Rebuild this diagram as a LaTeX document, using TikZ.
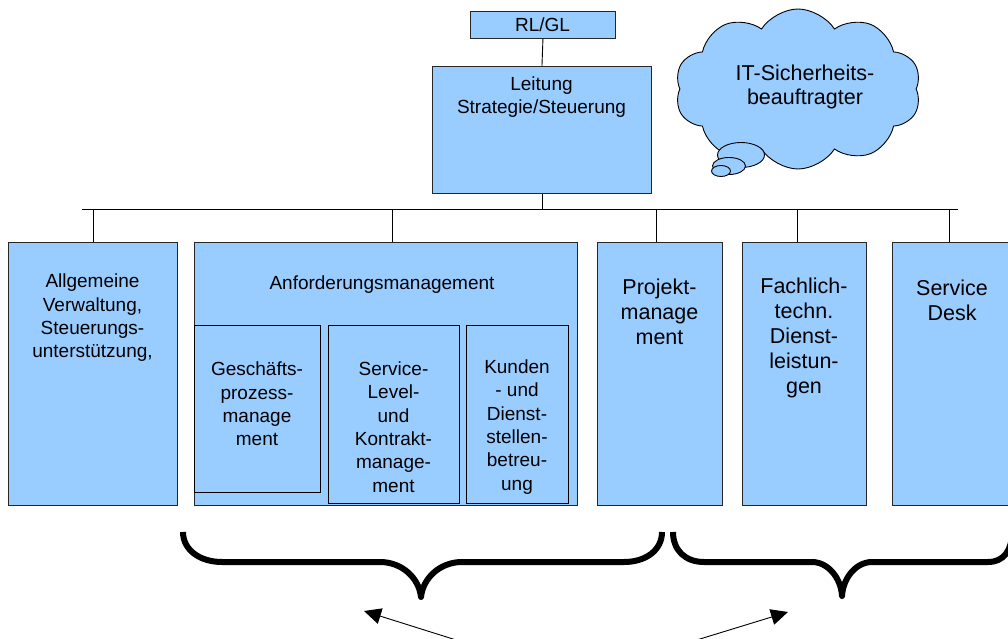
\documentclass[tikz,border=0pt]{standalone}
\usepackage{fontspec}
\setmainfont{Liberation Sans}
\usetikzlibrary{shapes.symbols,shapes.geometric,arrows.meta}
\definecolor{boxblue}{RGB}{153,204,255}
\begin{document}
\begin{tikzpicture}[x=1pt,y=-1pt,
  box/.style={draw=black!85,line width=0.9pt,fill=boxblue,inner sep=0pt,anchor=north west},
  inbox/.style={draw=black,line width=0.9pt,fill=boxblue,inner sep=0pt,anchor=north west},
  txt/.style={align=center,inner sep=0pt,font=\fontsize{19}{23.3}\selectfont},
  bigtxt/.style={align=center,inner sep=0pt,font=\fontsize{21.5}{24.8}\selectfont},
  conn/.style={draw=black,line width=0.9pt},
  brace/.style={draw=black,line width=6pt,line cap=butt,line join=round},
  arr/.style={draw=black,line width=0.9pt,-{Triangle[length=17pt,width=16pt]}}]
\useasboundingbox (0,0) rectangle (1008,639);
\clip (0,0) rectangle (1008,639);

% top boxes
\node[box,minimum width=145,minimum height=27] (rl) at (470,11) {};
\node[txt] (rlt) at (542.5,24.5) {RL/GL};
\node[box,minimum width=219,minimum height=127] (leit) at (432,66) {};
\node[txt] (leitt) at (541.5,97) {Leitung\\Strategie/Steuerung};

% cloud
\node[cloud,cloud puffs=10,cloud puff arc=115,cloud ignores aspect,draw=black,line width=0.9pt,fill=boxblue,
      minimum width=246,minimum height=160,inner sep=0pt] (cloud) at (798,89) {};
\node[draw=black,line width=0.9pt,fill=boxblue,ellipse,minimum width=47,minimum height=25,inner sep=0pt] (b1) at (741,155) {};
\node[draw=black,line width=0.9pt,fill=boxblue,ellipse,minimum width=33,minimum height=17,inner sep=0pt] (b2) at (729,166) {};
\node[draw=black,line width=0.9pt,fill=boxblue,ellipse,minimum width=19,minimum height=11,inner sep=0pt] (b3) at (721,171) {};
\node[bigtxt] (cloudt) at (805,87) {IT-Sicherheits-\\beauftragter};

% bus
\coordinate (busL) at (82,209);
\coordinate (busR) at (958,209);

% second row
\node[box,minimum width=169,minimum height=263] (allg) at (8,242) {};
\node[txt] (allgt) at (92.5,318) {Allgemeine\\Verwaltung,\\Steuerungs-\\unterstützung,};
\node[box,minimum width=383,minimum height=263] (anf) at (194,242) {};
\node[txt] (anft) at (382,285) {Anforderungsmanagement};
\node[inbox,minimum width=126,minimum height=167] (gpm) at (194,325) {};
\node[txt] (gpmt) at (257,404) {Geschäfts-\\prozess-\\manage\\ment};
\node[inbox,minimum width=131,minimum height=178] (slm) at (328,325) {};
\node[txt] (slmt) at (393.5,427) {Service-\\Level-\\und\\Kontrakt-\\manage-\\ment};
\node[inbox,minimum width=102,minimum height=178] (kdb) at (466,325) {};
\node[txt] (kdbt) at (517,427) {Kunden\\- und\\Dienst-\\stellen-\\betreu-\\ung};
\node[box,minimum width=125,minimum height=263] (proj) at (597,242) {};
\node[bigtxt] (projt) at (659.5,312) {Projekt-\\manage\\ment};
\node[box,minimum width=124,minimum height=263] (fach) at (742,242) {};
\node[bigtxt] (facht) at (804,338) {Fachlich-\\techn.\\Dienst-\\leistun-\\gen};
\node[box,minimum width=124,minimum height=263] (sd) at (892,242) {};
\node[bigtxt] (sdt) at (952,300) {Service\\Desk};

% connectors
\draw[conn] (rl.south) -- (leit.north);
\draw[conn] (leit.south) -- (leit.south |- busL);
\draw[conn] (busL) -- (busR);
\draw[conn] (allg.north) -- (allg.north |- busL);
\draw[conn] ([xshift=6.5]anf.north) -- ([xshift=6.5]anf.north |- busL);
\draw[conn] ([xshift=-3.5]proj.north) -- ([xshift=-3.5]proj.north |- busL);
\draw[conn] ([xshift=-7]fach.north) -- ([xshift=-7]fach.north |- busL);
\draw[conn] ([xshift=-5]sd.north) -- ([xshift=-5]sd.north |- busL);

% braces
\draw[brace] (183,532) .. controls (183,550) and (200,562) .. (222,562) -- (380,562)
  .. controls (402,562) and (419,578) .. (421,597)
  .. controls (423,578) and (440,562) .. (462,562) -- (624,562)
  .. controls (646,562) and (662,550) .. (662,532);
\draw[brace] (673,532) .. controls (673,550) and (685,562) .. (704,562) -- (812,562)
  .. controls (828,562) and (841,578) .. (842,596)
  .. controls (843,578) and (856,562) .. (872,562) -- (988,562)
  .. controls (1004,562) and (1012,550) .. (1012,532);

% arrows
\coordinate (a1s) at (488,650);
\coordinate (a1e) at (364,611);
\coordinate (a2s) at (664,650);
\coordinate (a2e) at (788,612);
\draw[arr] (a1s) -- (a1e);
\draw[arr] (a2s) -- (a2e);
\end{tikzpicture}
\end{document}
